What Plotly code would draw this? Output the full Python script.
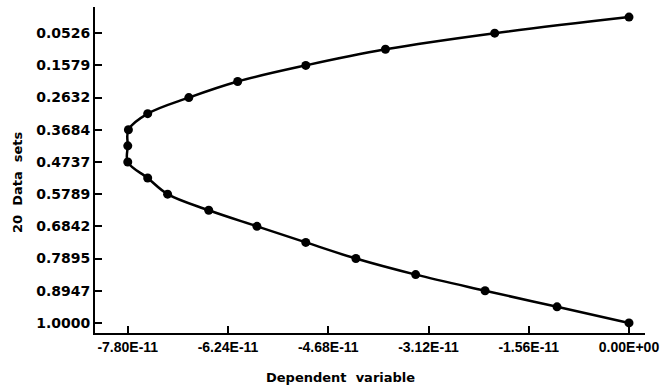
import plotly.graph_objects as go

# Data
y_values = [0.0000, 0.0526, 0.1053, 0.1579, 0.2105, 0.2632, 0.3158, 0.3684, 0.4211, 0.4737,
            0.5263, 0.5789, 0.6316, 0.6842, 0.7368, 0.7895, 0.8421, 0.8947, 0.9474, 1.0000]
x_values = [0.0, -2.09e-11, -3.79e-11, -5.03e-11, -6.09e-11, -6.85e-11, -7.49e-11, -7.79e-11,
            -7.80e-11, -7.80e-11, -7.49e-11, -7.18e-11, -6.54e-11, -5.79e-11, -5.03e-11,
            -4.25e-11, -3.32e-11, -2.24e-11, -1.12e-11, 0.0]

x_tickvals = [-7.80e-11, -6.24e-11, -4.68e-11, -3.12e-11, -1.56e-11, 0.0]
x_ticktext = ["-7.80E-11", "-6.24E-11", "-4.68E-11", "-3.12E-11", "-1.56E-11", "0.00E+00"]
y_tickvals = [0.0526, 0.1579, 0.2632, 0.3684, 0.4737, 0.5789, 0.6842, 0.7895, 0.8947, 1.0000]
y_ticktext = ["0.0526", "0.1579", "0.2632", "0.3684", "0.4737", "0.5789", "0.6842", "0.7895",
              "0.8947", "1.0000"]

x_title = "Dependent\u00a0\u00a0variable"
y_title = "20\u00a0\u00a0Data\u00a0\u00a0sets"

font_family = "DejaVu Sans"

fig = go.Figure()
fig.add_trace(go.Scatter(
    x=x_values, y=y_values, mode="lines+markers",
    line=dict(color="black", width=2.5, shape="spline", smoothing=1.0),
    marker=dict(color="black", size=9),
    showlegend=False,
))

axis_common = dict(
    showgrid=False, zeroline=False, showline=True, linecolor="black", linewidth=2,
    ticks="inside", ticklen=7, tickwidth=2, tickcolor="black", automargin=False,
)

fig.update_xaxes(range=[-8.31e-11, 0.249e-11], tickmode="array",
                 tickvals=x_tickvals, ticktext=x_ticktext, ticklabeloverflow="allow",
                 tickfont=dict(family="Liberation Sans", size=14, color="black", weight="bold"),
                 **axis_common)
fig.update_yaxes(range=[1.033, -0.033], tickmode="array",
                 tickvals=y_tickvals, ticktext=y_ticktext,
                 tickfont=dict(family=font_family, size=14, color="black", weight="bold"),
                 **axis_common)

fig.add_annotation(text=x_title, xref="paper", yref="paper", x=0.447, y=-0.138,
                   xanchor="center", yanchor="middle", showarrow=False,
                   font=dict(family=font_family, size=13, color="black", weight="bold"))
fig.add_annotation(text=y_title, xref="paper", yref="paper", x=-0.142, y=0.463,
                   xanchor="center", yanchor="middle", showarrow=False, textangle=-90,
                   font=dict(family=font_family, size=13, color="black", weight="bold"))

fig.update_layout(
    width=660, height=389,
    margin=dict(l=95, r=15, t=7, b=56),
    plot_bgcolor="white", paper_bgcolor="white",
)

fig.write_html("out.html")
